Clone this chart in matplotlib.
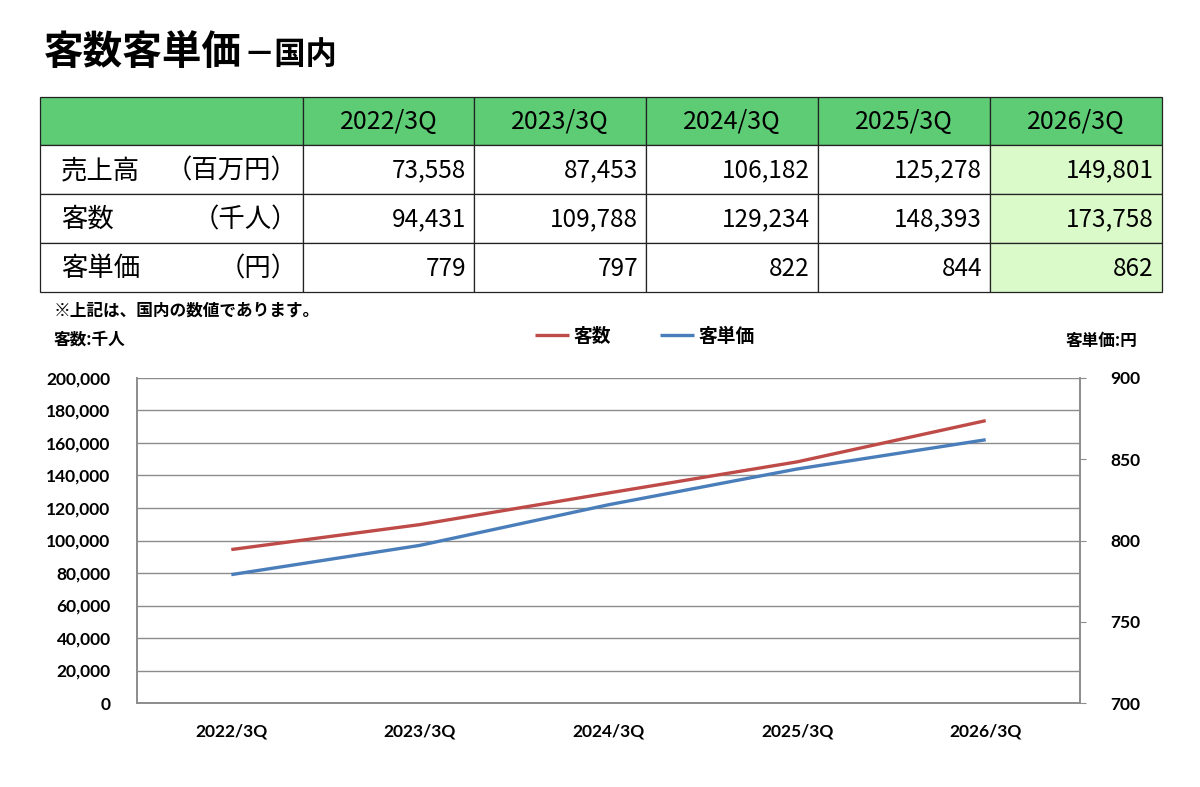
import matplotlib.pyplot as plt
from matplotlib.patches import Rectangle
from matplotlib.ticker import FuncFormatter, MultipleLocator

plt.rcParams['font.family'] = ['Noto Sans CJK JP', 'DejaVu Sans']

periods = ['2022/3Q', '2023/3Q', '2024/3Q', '2025/3Q', '2026/3Q']
sales = [73558, 87453, 106182, 125278, 149801]        # 百万円
customers = [94431, 109788, 129234, 148393, 173758]   # 千人
unit_price = [779, 797, 822, 844, 862]                # 円
row_names = ['売上高', '客数', '客単価']
row_units = ['（百万円）', '（千人）', '（円）']

W, H = 1200, 787
fig = plt.figure(figsize=(W / 100, H / 100), dpi=100)

# full-figure axes in pixel coordinates for the title and the table
bg = fig.add_axes([0, 0, 1, 1])
bg.set_xlim(0, W)
bg.set_ylim(H, 0)
bg.axis('off')

bg.text(44, 52, '客数客単価', fontsize=28.5, fontweight='bold', va='center', ha='left')
bg.text(243, 55, '－国内', fontsize=22.5, fontweight='bold', va='center', ha='left')

# table
col_x = [40, 303, 474, 646, 818, 990, 1162]
row_y = [97, 145, 194, 243, 292]
head_green = '#5ECB75'
light_green = '#DBFAC9'
for c in range(6):
    x0, x1 = col_x[c], col_x[c + 1]
    bg.add_patch(Rectangle((x0, row_y[0]), x1 - x0, row_y[1] - row_y[0],
                           facecolor=head_green, edgecolor='#222222', lw=0.9))
    for r in range(3):
        fc = light_green if c == 5 else 'white'
        bg.add_patch(Rectangle((x0, row_y[r + 1]), x1 - x0, row_y[r + 2] - row_y[r + 1],
                               facecolor=fc, edgecolor='#222222', lw=0.9))

for i, p in enumerate(periods):
    xc = (col_x[i + 1] + col_x[i + 2]) / 2
    bg.text(xc, (row_y[0] + row_y[1]) / 2 + 1, p, fontsize=18, ha='center', va='center')

table_rows = [sales, customers, unit_price]
for r, vals in enumerate(table_rows):
    yc = (row_y[r + 1] + row_y[r + 2]) / 2 + 1
    bg.text(61, yc, row_names[r], fontsize=19, ha='left', va='center')
    bg.text(298, yc, row_units[r], fontsize=19, ha='right', va='center')
    for i, v in enumerate(vals):
        bg.text(col_x[i + 2] - 8, yc, f'{v:,}', fontsize=17.5, ha='right', va='center')

bg.text(54, 311, '※上記は、国内の数値であります。', fontsize=12, fontweight='bold', va='center')
bg.text(54, 340, '客数:千人', fontsize=12, fontweight='bold', va='center')
bg.text(1137, 341, '客単価:円', fontsize=12, fontweight='bold', va='center', ha='right')

# chart
ax = fig.add_axes([137 / W, (H - 703) / H, 943 / W, 325 / H])
ax2 = ax.twinx()
xs = list(range(len(periods)))
red = '#BE4B48'
blue = '#4A7EBB'
l1, = ax.plot(xs, customers, color=red, lw=2.4, solid_capstyle='butt', label='客数')
l2, = ax2.plot(xs, unit_price, color=blue, lw=2.4, solid_capstyle='butt', label='客単価')

ax.set_xlim(-0.5, len(periods) - 0.5)
ax.set_ylim(0, 200000)
ax2.set_ylim(700, 900)
ax.yaxis.set_major_locator(MultipleLocator(20000))
ax2.yaxis.set_major_locator(MultipleLocator(50))
ax.yaxis.set_major_formatter(FuncFormatter(lambda v, _: f'{int(v):,}'))
ax.grid(axis='y', color='#8C8C8C', lw=1)
ax.set_axisbelow(True)
ax.set_xticks(xs)
ax.set_xticklabels(periods)

gray = '#8C8C8C'
for a in (ax, ax2):
    for s in a.spines.values():
        s.set_color(gray)
        s.set_linewidth(1.2)
    a.spines['top'].set_visible(False)
ax.tick_params(axis='x', length=0, pad=15)
ax.tick_params(axis='y', length=0, pad=19)
ax2.tick_params(axis='y', length=4, color=gray, pad=18)
for lab in ax.get_xticklabels() + ax.get_yticklabels() + ax2.get_yticklabels():
    lab.set_family(['Lato', 'DejaVu Sans'])
    lab.set_fontweight('bold')
    lab.set_fontsize(12.5)

fig.legend(handles=[l1, l2], loc='center', bbox_to_anchor=(645 / W, 1 - 336 / H),
           ncol=2, frameon=False, handlelength=1.8, handletextpad=0.25, columnspacing=2.6,
           prop={'family': ['Noto Sans CJK JP', 'DejaVu Sans'], 'weight': 'bold', 'size': 13.5})

fig.savefig('out.png', dpi=100)
